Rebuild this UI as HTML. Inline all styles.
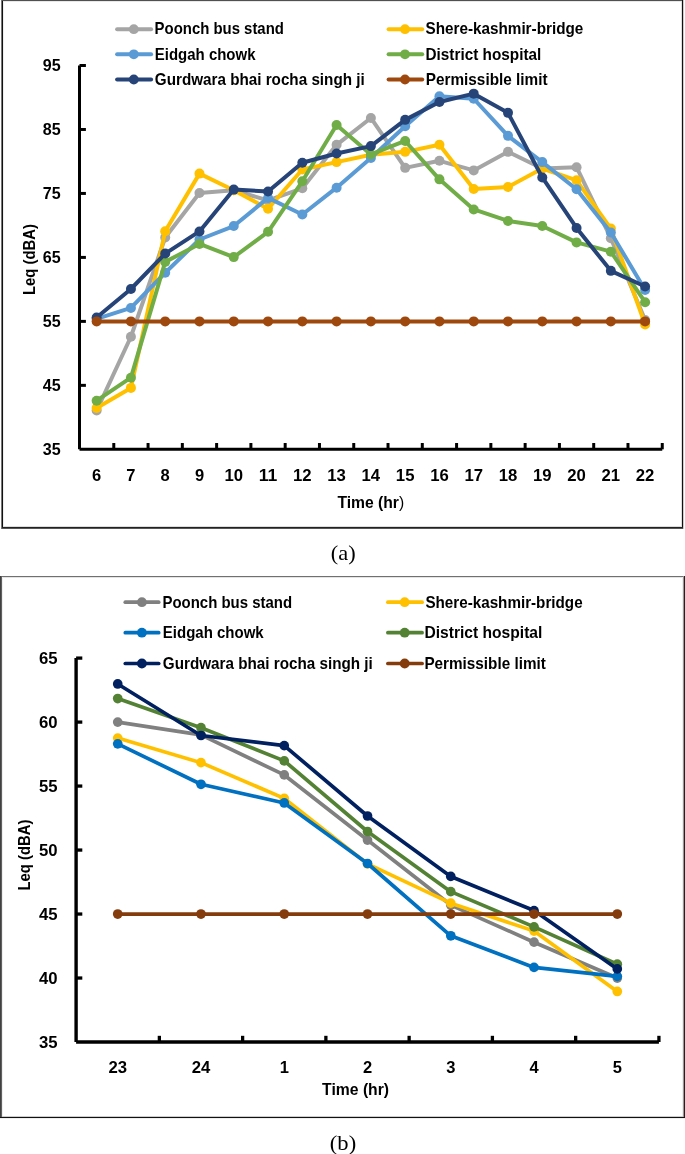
<!DOCTYPE html>
<html><head><meta charset="utf-8"><title>Leq charts</title>
<style>html,body{margin:0;padding:0;background:#fff;width:685px;height:1154px;overflow:hidden}svg{display:block;will-change:transform}</style>
</head><body>
<svg width="685" height="1154" viewBox="0 0 685 1154">
<rect x="0" y="0" width="685" height="1154" fill="#fff"/>
<rect x="1" y="0" width="1" height="529" fill="#777"/>
<rect x="2" y="0" width="1" height="529" fill="#111"/>
<rect x="3" y="1" width="1" height="526" fill="#eee"/>
<rect x="2" y="0" width="681" height="1" fill="#505050"/>
<rect x="3" y="1" width="679" height="1" fill="#e8e8e8"/>
<rect x="682" y="0" width="1" height="529" fill="#111"/>
<rect x="681" y="1" width="1" height="526" fill="#ddd"/>
<rect x="683" y="0" width="1" height="529" fill="#ccc"/>
<rect x="2" y="527" width="681" height="1" fill="#222"/>
<rect x="2" y="528" width="681" height="1" fill="#555"/>
<rect x="3" y="526" width="678" height="1" fill="#ddd"/>
<rect x="0" y="576" width="685" height="1" fill="#707070"/>
<rect x="2" y="577" width="681" height="1" fill="#e4e4e4"/>
<rect x="0" y="576" width="1" height="542" fill="#404040"/>
<rect x="1" y="576" width="1" height="542" fill="#606060"/>
<rect x="2" y="577" width="1" height="540" fill="#eee"/>
<rect x="683" y="576" width="1" height="542" fill="#999"/>
<rect x="684" y="576" width="1" height="542" fill="#222"/>
<rect x="682" y="577" width="1" height="540" fill="#eee"/>
<rect x="0" y="1117" width="685" height="1" fill="#111"/>
<rect x="2" y="1116" width="681" height="1" fill="#ccc"/>
<rect x="0" y="1118" width="685" height="1" fill="#eee"/>
<line x1="117.1" y1="29.2" x2="151.1" y2="29.2" stroke="#A5A5A5" stroke-width="4" stroke-linecap="round"/>
<circle cx="133.8" cy="29.2" r="4.9" fill="#A5A5A5"/>
<text x="154.6" y="34.4" font-size="16.2" font-weight="bold" text-anchor="start" fill="#000" font-family='"Liberation Sans", sans-serif' textLength="129.3" lengthAdjust="spacingAndGlyphs">Poonch bus stand</text>
<line x1="117.1" y1="54.3" x2="151.1" y2="54.3" stroke="#5B9BD5" stroke-width="4" stroke-linecap="round"/>
<circle cx="133.8" cy="54.3" r="4.9" fill="#5B9BD5"/>
<text x="154.8" y="59.5" font-size="16.2" font-weight="bold" text-anchor="start" fill="#000" font-family='"Liberation Sans", sans-serif' textLength="100.7" lengthAdjust="spacingAndGlyphs">Eidgah chowk</text>
<line x1="117.1" y1="79.5" x2="151.1" y2="79.5" stroke="#264478" stroke-width="4" stroke-linecap="round"/>
<circle cx="133.8" cy="79.5" r="4.9" fill="#264478"/>
<text x="154.8" y="84.7" font-size="16.2" font-weight="bold" text-anchor="start" fill="#000" font-family='"Liberation Sans", sans-serif' textLength="209.9" lengthAdjust="spacingAndGlyphs">Gurdwara bhai rocha singh ji</text>
<line x1="388.6" y1="29.2" x2="422.2" y2="29.2" stroke="#FFC000" stroke-width="4" stroke-linecap="round"/>
<circle cx="405" cy="29.2" r="4.9" fill="#FFC000"/>
<text x="425.5" y="34.4" font-size="16.2" font-weight="bold" text-anchor="start" fill="#000" font-family='"Liberation Sans", sans-serif' textLength="157.8" lengthAdjust="spacingAndGlyphs">Shere-kashmir-bridge</text>
<line x1="388.6" y1="54.3" x2="422.2" y2="54.3" stroke="#70AD47" stroke-width="4" stroke-linecap="round"/>
<circle cx="405" cy="54.3" r="4.9" fill="#70AD47"/>
<text x="425.5" y="59.5" font-size="16.2" font-weight="bold" text-anchor="start" fill="#000" font-family='"Liberation Sans", sans-serif' textLength="115.8" lengthAdjust="spacingAndGlyphs">District hospital</text>
<line x1="388.6" y1="79.5" x2="422.2" y2="79.5" stroke="#9E480E" stroke-width="4" stroke-linecap="round"/>
<circle cx="405" cy="79.5" r="4.9" fill="#9E480E"/>
<text x="425.8" y="84.7" font-size="16.2" font-weight="bold" text-anchor="start" fill="#000" font-family='"Liberation Sans", sans-serif' textLength="121.7" lengthAdjust="spacingAndGlyphs">Permissible limit</text>
<line x1="79.5" y1="65.5" x2="79.5" y2="449.32" stroke="#000" stroke-width="3" stroke-linecap="butt"/>
<line x1="79.5" y1="449.32" x2="662.26" y2="449.32" stroke="#000" stroke-width="3" stroke-linecap="butt"/>
<text x="60.6" y="454.82" font-size="17" font-weight="bold" text-anchor="end" fill="#000" font-family='"Liberation Sans", sans-serif' textLength="17.9" lengthAdjust="spacingAndGlyphs">35</text>
<line x1="79.5" y1="385.35" x2="85.9" y2="385.35" stroke="#000" stroke-width="3" stroke-linecap="butt"/>
<text x="60.6" y="390.85" font-size="17" font-weight="bold" text-anchor="end" fill="#000" font-family='"Liberation Sans", sans-serif' textLength="17.9" lengthAdjust="spacingAndGlyphs">45</text>
<line x1="79.5" y1="321.38" x2="85.9" y2="321.38" stroke="#000" stroke-width="3" stroke-linecap="butt"/>
<text x="60.6" y="326.88" font-size="17" font-weight="bold" text-anchor="end" fill="#000" font-family='"Liberation Sans", sans-serif' textLength="17.9" lengthAdjust="spacingAndGlyphs">55</text>
<line x1="79.5" y1="257.41" x2="85.9" y2="257.41" stroke="#000" stroke-width="3" stroke-linecap="butt"/>
<text x="60.6" y="262.91" font-size="17" font-weight="bold" text-anchor="end" fill="#000" font-family='"Liberation Sans", sans-serif' textLength="17.9" lengthAdjust="spacingAndGlyphs">65</text>
<line x1="79.5" y1="193.44" x2="85.9" y2="193.44" stroke="#000" stroke-width="3" stroke-linecap="butt"/>
<text x="60.6" y="198.94" font-size="17" font-weight="bold" text-anchor="end" fill="#000" font-family='"Liberation Sans", sans-serif' textLength="17.9" lengthAdjust="spacingAndGlyphs">75</text>
<line x1="79.5" y1="129.47" x2="85.9" y2="129.47" stroke="#000" stroke-width="3" stroke-linecap="butt"/>
<text x="60.6" y="134.97" font-size="17" font-weight="bold" text-anchor="end" fill="#000" font-family='"Liberation Sans", sans-serif' textLength="17.9" lengthAdjust="spacingAndGlyphs">85</text>
<line x1="79.5" y1="65.5" x2="85.9" y2="65.5" stroke="#000" stroke-width="3" stroke-linecap="butt"/>
<text x="60.6" y="71" font-size="17" font-weight="bold" text-anchor="end" fill="#000" font-family='"Liberation Sans", sans-serif' textLength="17.9" lengthAdjust="spacingAndGlyphs">95</text>
<line x1="113.78" y1="449.32" x2="113.78" y2="443.02" stroke="#000" stroke-width="3" stroke-linecap="butt"/>
<line x1="148.06" y1="449.32" x2="148.06" y2="443.02" stroke="#000" stroke-width="3" stroke-linecap="butt"/>
<line x1="182.34" y1="449.32" x2="182.34" y2="443.02" stroke="#000" stroke-width="3" stroke-linecap="butt"/>
<line x1="216.62" y1="449.32" x2="216.62" y2="443.02" stroke="#000" stroke-width="3" stroke-linecap="butt"/>
<line x1="250.9" y1="449.32" x2="250.9" y2="443.02" stroke="#000" stroke-width="3" stroke-linecap="butt"/>
<line x1="285.18" y1="449.32" x2="285.18" y2="443.02" stroke="#000" stroke-width="3" stroke-linecap="butt"/>
<line x1="319.46" y1="449.32" x2="319.46" y2="443.02" stroke="#000" stroke-width="3" stroke-linecap="butt"/>
<line x1="353.74" y1="449.32" x2="353.74" y2="443.02" stroke="#000" stroke-width="3" stroke-linecap="butt"/>
<line x1="388.02" y1="449.32" x2="388.02" y2="443.02" stroke="#000" stroke-width="3" stroke-linecap="butt"/>
<line x1="422.3" y1="449.32" x2="422.3" y2="443.02" stroke="#000" stroke-width="3" stroke-linecap="butt"/>
<line x1="456.58" y1="449.32" x2="456.58" y2="443.02" stroke="#000" stroke-width="3" stroke-linecap="butt"/>
<line x1="490.86" y1="449.32" x2="490.86" y2="443.02" stroke="#000" stroke-width="3" stroke-linecap="butt"/>
<line x1="525.14" y1="449.32" x2="525.14" y2="443.02" stroke="#000" stroke-width="3" stroke-linecap="butt"/>
<line x1="559.42" y1="449.32" x2="559.42" y2="443.02" stroke="#000" stroke-width="3" stroke-linecap="butt"/>
<line x1="593.7" y1="449.32" x2="593.7" y2="443.02" stroke="#000" stroke-width="3" stroke-linecap="butt"/>
<line x1="627.98" y1="449.32" x2="627.98" y2="443.02" stroke="#000" stroke-width="3" stroke-linecap="butt"/>
<line x1="662.26" y1="449.32" x2="662.26" y2="443.02" stroke="#000" stroke-width="3" stroke-linecap="butt"/>
<text x="96.64" y="480.5" font-size="17" font-weight="bold" text-anchor="middle" fill="#000" font-family='"Liberation Sans", sans-serif' textLength="9.2" lengthAdjust="spacingAndGlyphs">6</text>
<text x="130.92" y="480.5" font-size="17" font-weight="bold" text-anchor="middle" fill="#000" font-family='"Liberation Sans", sans-serif' textLength="9.2" lengthAdjust="spacingAndGlyphs">7</text>
<text x="165.2" y="480.5" font-size="17" font-weight="bold" text-anchor="middle" fill="#000" font-family='"Liberation Sans", sans-serif' textLength="9.2" lengthAdjust="spacingAndGlyphs">8</text>
<text x="199.48" y="480.5" font-size="17" font-weight="bold" text-anchor="middle" fill="#000" font-family='"Liberation Sans", sans-serif' textLength="9.2" lengthAdjust="spacingAndGlyphs">9</text>
<text x="233.76" y="480.5" font-size="17" font-weight="bold" text-anchor="middle" fill="#000" font-family='"Liberation Sans", sans-serif' textLength="18.6" lengthAdjust="spacingAndGlyphs">10</text>
<text x="268.04" y="480.5" font-size="17" font-weight="bold" text-anchor="middle" fill="#000" font-family='"Liberation Sans", sans-serif' textLength="18.6" lengthAdjust="spacingAndGlyphs">11</text>
<text x="302.32" y="480.5" font-size="17" font-weight="bold" text-anchor="middle" fill="#000" font-family='"Liberation Sans", sans-serif' textLength="18.6" lengthAdjust="spacingAndGlyphs">12</text>
<text x="336.6" y="480.5" font-size="17" font-weight="bold" text-anchor="middle" fill="#000" font-family='"Liberation Sans", sans-serif' textLength="18.6" lengthAdjust="spacingAndGlyphs">13</text>
<text x="370.88" y="480.5" font-size="17" font-weight="bold" text-anchor="middle" fill="#000" font-family='"Liberation Sans", sans-serif' textLength="18.6" lengthAdjust="spacingAndGlyphs">14</text>
<text x="405.16" y="480.5" font-size="17" font-weight="bold" text-anchor="middle" fill="#000" font-family='"Liberation Sans", sans-serif' textLength="18.6" lengthAdjust="spacingAndGlyphs">15</text>
<text x="439.44" y="480.5" font-size="17" font-weight="bold" text-anchor="middle" fill="#000" font-family='"Liberation Sans", sans-serif' textLength="18.6" lengthAdjust="spacingAndGlyphs">16</text>
<text x="473.72" y="480.5" font-size="17" font-weight="bold" text-anchor="middle" fill="#000" font-family='"Liberation Sans", sans-serif' textLength="18.6" lengthAdjust="spacingAndGlyphs">17</text>
<text x="508" y="480.5" font-size="17" font-weight="bold" text-anchor="middle" fill="#000" font-family='"Liberation Sans", sans-serif' textLength="18.6" lengthAdjust="spacingAndGlyphs">18</text>
<text x="542.28" y="480.5" font-size="17" font-weight="bold" text-anchor="middle" fill="#000" font-family='"Liberation Sans", sans-serif' textLength="18.6" lengthAdjust="spacingAndGlyphs">19</text>
<text x="576.56" y="480.5" font-size="17" font-weight="bold" text-anchor="middle" fill="#000" font-family='"Liberation Sans", sans-serif' textLength="18.6" lengthAdjust="spacingAndGlyphs">20</text>
<text x="610.84" y="480.5" font-size="17" font-weight="bold" text-anchor="middle" fill="#000" font-family='"Liberation Sans", sans-serif' textLength="18.6" lengthAdjust="spacingAndGlyphs">21</text>
<text x="645.12" y="480.5" font-size="17" font-weight="bold" text-anchor="middle" fill="#000" font-family='"Liberation Sans", sans-serif' textLength="18.6" lengthAdjust="spacingAndGlyphs">22</text>
<text x="337.4" y="507.8" font-size="16.5" font-weight="bold" text-anchor="start" fill="#000" font-family='"Liberation Sans", sans-serif' textLength="66.8" lengthAdjust="spacingAndGlyphs">Time (hr<tspan font-weight="normal">)</tspan></text>
<text transform="translate(35 259.5) rotate(-90)" x="0" y="0" font-size="16.5" font-weight="bold" text-anchor="middle" font-family='"Liberation Sans", sans-serif' textLength="71" lengthAdjust="spacingAndGlyphs">Leq (dBA)</text>
<path d="M96.64 410.55 L130.92 336.73 L165.2 237.58 L199.48 193.06 L233.76 190.24 L268.04 200.48 L302.32 188.32 L336.6 144.82 L370.88 117.96 L405.16 167.85 L439.44 160.82 L473.72 170.41 L508 151.86 L542.28 168.49 L576.56 167.21 L610.84 238.22 L645.12 320.1" fill="none" stroke="#A5A5A5" stroke-width="4" stroke-linejoin="round" stroke-linecap="round"/>
<circle cx="96.64" cy="410.55" r="5" fill="#A5A5A5"/>
<circle cx="130.92" cy="336.73" r="5" fill="#A5A5A5"/>
<circle cx="165.2" cy="237.58" r="5" fill="#A5A5A5"/>
<circle cx="199.48" cy="193.06" r="5" fill="#A5A5A5"/>
<circle cx="233.76" cy="190.24" r="5" fill="#A5A5A5"/>
<circle cx="268.04" cy="200.48" r="5" fill="#A5A5A5"/>
<circle cx="302.32" cy="188.32" r="5" fill="#A5A5A5"/>
<circle cx="336.6" cy="144.82" r="5" fill="#A5A5A5"/>
<circle cx="370.88" cy="117.96" r="5" fill="#A5A5A5"/>
<circle cx="405.16" cy="167.85" r="5" fill="#A5A5A5"/>
<circle cx="439.44" cy="160.82" r="5" fill="#A5A5A5"/>
<circle cx="473.72" cy="170.41" r="5" fill="#A5A5A5"/>
<circle cx="508" cy="151.86" r="5" fill="#A5A5A5"/>
<circle cx="542.28" cy="168.49" r="5" fill="#A5A5A5"/>
<circle cx="576.56" cy="167.21" r="5" fill="#A5A5A5"/>
<circle cx="610.84" cy="238.22" r="5" fill="#A5A5A5"/>
<circle cx="645.12" cy="320.1" r="5" fill="#A5A5A5"/>
<path d="M96.64 408.06 L130.92 387.91 L165.2 231.18 L199.48 173.61 L233.76 190.24 L268.04 208.79 L302.32 169.45 L336.6 162.09 L370.88 154.74 L405.16 151.86 L439.44 144.82 L473.72 188.96 L508 187.04 L542.28 168.49 L576.56 180.33 L610.84 228.62 L645.12 324.58" fill="none" stroke="#FFC000" stroke-width="4" stroke-linejoin="round" stroke-linecap="round"/>
<circle cx="96.64" cy="408.06" r="5" fill="#FFC000"/>
<circle cx="130.92" cy="387.91" r="5" fill="#FFC000"/>
<circle cx="165.2" cy="231.18" r="5" fill="#FFC000"/>
<circle cx="199.48" cy="173.61" r="5" fill="#FFC000"/>
<circle cx="233.76" cy="190.24" r="5" fill="#FFC000"/>
<circle cx="268.04" cy="208.79" r="5" fill="#FFC000"/>
<circle cx="302.32" cy="169.45" r="5" fill="#FFC000"/>
<circle cx="336.6" cy="162.09" r="5" fill="#FFC000"/>
<circle cx="370.88" cy="154.74" r="5" fill="#FFC000"/>
<circle cx="405.16" cy="151.86" r="5" fill="#FFC000"/>
<circle cx="439.44" cy="144.82" r="5" fill="#FFC000"/>
<circle cx="473.72" cy="188.96" r="5" fill="#FFC000"/>
<circle cx="508" cy="187.04" r="5" fill="#FFC000"/>
<circle cx="542.28" cy="168.49" r="5" fill="#FFC000"/>
<circle cx="576.56" cy="180.33" r="5" fill="#FFC000"/>
<circle cx="610.84" cy="228.62" r="5" fill="#FFC000"/>
<circle cx="645.12" cy="324.58" r="5" fill="#FFC000"/>
<path d="M96.64 318.82 L130.92 307.95 L165.2 272.76 L199.48 239.5 L233.76 226.06 L268.04 197.92 L302.32 214.55 L336.6 187.68 L370.88 157.94 L405.16 126.27 L439.44 96.21 L473.72 98.76 L508 135.87 L542.28 162.09 L576.56 189.28 L610.84 232.46 L645.12 290.03" fill="none" stroke="#5B9BD5" stroke-width="4" stroke-linejoin="round" stroke-linecap="round"/>
<circle cx="96.64" cy="318.82" r="5" fill="#5B9BD5"/>
<circle cx="130.92" cy="307.95" r="5" fill="#5B9BD5"/>
<circle cx="165.2" cy="272.76" r="5" fill="#5B9BD5"/>
<circle cx="199.48" cy="239.5" r="5" fill="#5B9BD5"/>
<circle cx="233.76" cy="226.06" r="5" fill="#5B9BD5"/>
<circle cx="268.04" cy="197.92" r="5" fill="#5B9BD5"/>
<circle cx="302.32" cy="214.55" r="5" fill="#5B9BD5"/>
<circle cx="336.6" cy="187.68" r="5" fill="#5B9BD5"/>
<circle cx="370.88" cy="157.94" r="5" fill="#5B9BD5"/>
<circle cx="405.16" cy="126.27" r="5" fill="#5B9BD5"/>
<circle cx="439.44" cy="96.21" r="5" fill="#5B9BD5"/>
<circle cx="473.72" cy="98.76" r="5" fill="#5B9BD5"/>
<circle cx="508" cy="135.87" r="5" fill="#5B9BD5"/>
<circle cx="542.28" cy="162.09" r="5" fill="#5B9BD5"/>
<circle cx="576.56" cy="189.28" r="5" fill="#5B9BD5"/>
<circle cx="610.84" cy="232.46" r="5" fill="#5B9BD5"/>
<circle cx="645.12" cy="290.03" r="5" fill="#5B9BD5"/>
<path d="M96.64 400.7 L130.92 377.67 L165.2 261.89 L199.48 243.98 L233.76 257.09 L268.04 231.82 L302.32 181.29 L336.6 124.99 L370.88 154.42 L405.16 140.98 L439.44 179.37 L473.72 209.43 L508 220.95 L542.28 226.06 L576.56 242.38 L610.84 251.65 L645.12 302.19" fill="none" stroke="#70AD47" stroke-width="4" stroke-linejoin="round" stroke-linecap="round"/>
<circle cx="96.64" cy="400.7" r="5" fill="#70AD47"/>
<circle cx="130.92" cy="377.67" r="5" fill="#70AD47"/>
<circle cx="165.2" cy="261.89" r="5" fill="#70AD47"/>
<circle cx="199.48" cy="243.98" r="5" fill="#70AD47"/>
<circle cx="233.76" cy="257.09" r="5" fill="#70AD47"/>
<circle cx="268.04" cy="231.82" r="5" fill="#70AD47"/>
<circle cx="302.32" cy="181.29" r="5" fill="#70AD47"/>
<circle cx="336.6" cy="124.99" r="5" fill="#70AD47"/>
<circle cx="370.88" cy="154.42" r="5" fill="#70AD47"/>
<circle cx="405.16" cy="140.98" r="5" fill="#70AD47"/>
<circle cx="439.44" cy="179.37" r="5" fill="#70AD47"/>
<circle cx="473.72" cy="209.43" r="5" fill="#70AD47"/>
<circle cx="508" cy="220.95" r="5" fill="#70AD47"/>
<circle cx="542.28" cy="226.06" r="5" fill="#70AD47"/>
<circle cx="576.56" cy="242.38" r="5" fill="#70AD47"/>
<circle cx="610.84" cy="251.65" r="5" fill="#70AD47"/>
<circle cx="645.12" cy="302.19" r="5" fill="#70AD47"/>
<path d="M96.64 317.54 L130.92 289.01 L165.2 253.57 L199.48 231.44 L233.76 189.6 L268.04 191.52 L302.32 162.73 L336.6 153.46 L370.88 146.1 L405.16 119.87 L439.44 101.96 L473.72 93.65 L508 112.84 L542.28 177.45 L576.56 227.98 L610.84 270.84 L645.12 286.52" fill="none" stroke="#264478" stroke-width="4" stroke-linejoin="round" stroke-linecap="round"/>
<circle cx="96.64" cy="317.54" r="5" fill="#264478"/>
<circle cx="130.92" cy="289.01" r="5" fill="#264478"/>
<circle cx="165.2" cy="253.57" r="5" fill="#264478"/>
<circle cx="199.48" cy="231.44" r="5" fill="#264478"/>
<circle cx="233.76" cy="189.6" r="5" fill="#264478"/>
<circle cx="268.04" cy="191.52" r="5" fill="#264478"/>
<circle cx="302.32" cy="162.73" r="5" fill="#264478"/>
<circle cx="336.6" cy="153.46" r="5" fill="#264478"/>
<circle cx="370.88" cy="146.1" r="5" fill="#264478"/>
<circle cx="405.16" cy="119.87" r="5" fill="#264478"/>
<circle cx="439.44" cy="101.96" r="5" fill="#264478"/>
<circle cx="473.72" cy="93.65" r="5" fill="#264478"/>
<circle cx="508" cy="112.84" r="5" fill="#264478"/>
<circle cx="542.28" cy="177.45" r="5" fill="#264478"/>
<circle cx="576.56" cy="227.98" r="5" fill="#264478"/>
<circle cx="610.84" cy="270.84" r="5" fill="#264478"/>
<circle cx="645.12" cy="286.52" r="5" fill="#264478"/>
<path d="M96.64 321.38 L130.92 321.38 L165.2 321.38 L199.48 321.38 L233.76 321.38 L268.04 321.38 L302.32 321.38 L336.6 321.38 L370.88 321.38 L405.16 321.38 L439.44 321.38 L473.72 321.38 L508 321.38 L542.28 321.38 L576.56 321.38 L610.84 321.38 L645.12 321.38" fill="none" stroke="#9E480E" stroke-width="4" stroke-linejoin="round" stroke-linecap="round"/>
<circle cx="96.64" cy="321.38" r="5" fill="#9E480E"/>
<circle cx="130.92" cy="321.38" r="5" fill="#9E480E"/>
<circle cx="165.2" cy="321.38" r="5" fill="#9E480E"/>
<circle cx="199.48" cy="321.38" r="5" fill="#9E480E"/>
<circle cx="233.76" cy="321.38" r="5" fill="#9E480E"/>
<circle cx="268.04" cy="321.38" r="5" fill="#9E480E"/>
<circle cx="302.32" cy="321.38" r="5" fill="#9E480E"/>
<circle cx="336.6" cy="321.38" r="5" fill="#9E480E"/>
<circle cx="370.88" cy="321.38" r="5" fill="#9E480E"/>
<circle cx="405.16" cy="321.38" r="5" fill="#9E480E"/>
<circle cx="439.44" cy="321.38" r="5" fill="#9E480E"/>
<circle cx="473.72" cy="321.38" r="5" fill="#9E480E"/>
<circle cx="508" cy="321.38" r="5" fill="#9E480E"/>
<circle cx="542.28" cy="321.38" r="5" fill="#9E480E"/>
<circle cx="576.56" cy="321.38" r="5" fill="#9E480E"/>
<circle cx="610.84" cy="321.38" r="5" fill="#9E480E"/>
<circle cx="645.12" cy="321.38" r="5" fill="#9E480E"/>
<text x="330.85" y="559.9" font-size="21.5" font-weight="normal" text-anchor="start" fill="#000" font-family='"Liberation Serif", serif' textLength="24.9" lengthAdjust="spacingAndGlyphs">(a)</text>
<line x1="125.3" y1="602.2" x2="158.7" y2="602.2" stroke="#808080" stroke-width="3.7" stroke-linecap="round"/>
<circle cx="141.9" cy="602.2" r="4.9" fill="#808080"/>
<text x="162.5" y="607.6" font-size="16.2" font-weight="bold" text-anchor="start" fill="#000" font-family='"Liberation Sans", sans-serif' textLength="129.6" lengthAdjust="spacingAndGlyphs">Poonch bus stand</text>
<line x1="125.3" y1="632.7" x2="158.7" y2="632.7" stroke="#0070C0" stroke-width="3.7" stroke-linecap="round"/>
<circle cx="141.9" cy="632.7" r="4.9" fill="#0070C0"/>
<text x="162.8" y="638.1" font-size="16.2" font-weight="bold" text-anchor="start" fill="#000" font-family='"Liberation Sans", sans-serif' textLength="100.9" lengthAdjust="spacingAndGlyphs">Eidgah chowk</text>
<line x1="125.3" y1="663.5" x2="158.7" y2="663.5" stroke="#002060" stroke-width="3.7" stroke-linecap="round"/>
<circle cx="141.9" cy="663.5" r="4.9" fill="#002060"/>
<text x="162.8" y="668.9" font-size="16.2" font-weight="bold" text-anchor="start" fill="#000" font-family='"Liberation Sans", sans-serif' textLength="210" lengthAdjust="spacingAndGlyphs">Gurdwara bhai rocha singh ji</text>
<line x1="387.9" y1="602.2" x2="422.1" y2="602.2" stroke="#FFC000" stroke-width="3.7" stroke-linecap="round"/>
<circle cx="404.7" cy="602.2" r="4.9" fill="#FFC000"/>
<text x="425.4" y="607.6" font-size="16.2" font-weight="bold" text-anchor="start" fill="#000" font-family='"Liberation Sans", sans-serif' textLength="157.2" lengthAdjust="spacingAndGlyphs">Shere-kashmir-bridge</text>
<line x1="387.9" y1="632.7" x2="422.1" y2="632.7" stroke="#548235" stroke-width="3.7" stroke-linecap="round"/>
<circle cx="404.7" cy="632.7" r="4.9" fill="#548235"/>
<text x="424.4" y="638.1" font-size="16.2" font-weight="bold" text-anchor="start" fill="#000" font-family='"Liberation Sans", sans-serif' textLength="118" lengthAdjust="spacingAndGlyphs">District hospital</text>
<line x1="387.9" y1="663.5" x2="422.1" y2="663.5" stroke="#843C0C" stroke-width="3.7" stroke-linecap="round"/>
<circle cx="404.7" cy="663.5" r="4.9" fill="#843C0C"/>
<text x="424.4" y="668.9" font-size="16.2" font-weight="bold" text-anchor="start" fill="#000" font-family='"Liberation Sans", sans-serif' textLength="121.4" lengthAdjust="spacingAndGlyphs">Permissible limit</text>
<line x1="76.1" y1="658.1" x2="76.1" y2="1042.01" stroke="#000" stroke-width="3.4" stroke-linecap="butt"/>
<line x1="76.1" y1="1042.01" x2="658.92" y2="1042.01" stroke="#000" stroke-width="3.4" stroke-linecap="butt"/>
<text x="57.5" y="1047.61" font-size="17" font-weight="bold" text-anchor="end" fill="#000" font-family='"Liberation Sans", sans-serif' textLength="18.6" lengthAdjust="spacingAndGlyphs">35</text>
<line x1="76.1" y1="978.03" x2="82.3" y2="978.03" stroke="#000" stroke-width="3.3" stroke-linecap="butt"/>
<text x="57.5" y="983.63" font-size="17" font-weight="bold" text-anchor="end" fill="#000" font-family='"Liberation Sans", sans-serif' textLength="18.6" lengthAdjust="spacingAndGlyphs">40</text>
<line x1="76.1" y1="914.04" x2="82.3" y2="914.04" stroke="#000" stroke-width="3.3" stroke-linecap="butt"/>
<text x="57.5" y="919.64" font-size="17" font-weight="bold" text-anchor="end" fill="#000" font-family='"Liberation Sans", sans-serif' textLength="18.6" lengthAdjust="spacingAndGlyphs">45</text>
<line x1="76.1" y1="850.06" x2="82.3" y2="850.06" stroke="#000" stroke-width="3.3" stroke-linecap="butt"/>
<text x="57.5" y="855.66" font-size="17" font-weight="bold" text-anchor="end" fill="#000" font-family='"Liberation Sans", sans-serif' textLength="18.6" lengthAdjust="spacingAndGlyphs">50</text>
<line x1="76.1" y1="786.07" x2="82.3" y2="786.07" stroke="#000" stroke-width="3.3" stroke-linecap="butt"/>
<text x="57.5" y="791.67" font-size="17" font-weight="bold" text-anchor="end" fill="#000" font-family='"Liberation Sans", sans-serif' textLength="18.6" lengthAdjust="spacingAndGlyphs">55</text>
<line x1="76.1" y1="722.09" x2="82.3" y2="722.09" stroke="#000" stroke-width="3.3" stroke-linecap="butt"/>
<text x="57.5" y="727.69" font-size="17" font-weight="bold" text-anchor="end" fill="#000" font-family='"Liberation Sans", sans-serif' textLength="18.6" lengthAdjust="spacingAndGlyphs">60</text>
<line x1="76.1" y1="658.1" x2="82.3" y2="658.1" stroke="#000" stroke-width="3.3" stroke-linecap="butt"/>
<text x="57.5" y="663.7" font-size="17" font-weight="bold" text-anchor="end" fill="#000" font-family='"Liberation Sans", sans-serif' textLength="18.6" lengthAdjust="spacingAndGlyphs">65</text>
<line x1="159.36" y1="1042.01" x2="159.36" y2="1035.81" stroke="#000" stroke-width="3.3" stroke-linecap="butt"/>
<line x1="242.62" y1="1042.01" x2="242.62" y2="1035.81" stroke="#000" stroke-width="3.3" stroke-linecap="butt"/>
<line x1="325.88" y1="1042.01" x2="325.88" y2="1035.81" stroke="#000" stroke-width="3.3" stroke-linecap="butt"/>
<line x1="409.14" y1="1042.01" x2="409.14" y2="1035.81" stroke="#000" stroke-width="3.3" stroke-linecap="butt"/>
<line x1="492.4" y1="1042.01" x2="492.4" y2="1035.81" stroke="#000" stroke-width="3.3" stroke-linecap="butt"/>
<line x1="575.66" y1="1042.01" x2="575.66" y2="1035.81" stroke="#000" stroke-width="3.3" stroke-linecap="butt"/>
<line x1="658.92" y1="1042.01" x2="658.92" y2="1035.81" stroke="#000" stroke-width="3.3" stroke-linecap="butt"/>
<text x="117.73" y="1073.4" font-size="17" font-weight="bold" text-anchor="middle" fill="#000" font-family='"Liberation Sans", sans-serif' textLength="18.6" lengthAdjust="spacingAndGlyphs">23</text>
<text x="200.99" y="1073.4" font-size="17" font-weight="bold" text-anchor="middle" fill="#000" font-family='"Liberation Sans", sans-serif' textLength="18.6" lengthAdjust="spacingAndGlyphs">24</text>
<text x="284.25" y="1073.4" font-size="17" font-weight="bold" text-anchor="middle" fill="#000" font-family='"Liberation Sans", sans-serif' textLength="9.2" lengthAdjust="spacingAndGlyphs">1</text>
<text x="367.51" y="1073.4" font-size="17" font-weight="bold" text-anchor="middle" fill="#000" font-family='"Liberation Sans", sans-serif' textLength="9.2" lengthAdjust="spacingAndGlyphs">2</text>
<text x="450.77" y="1073.4" font-size="17" font-weight="bold" text-anchor="middle" fill="#000" font-family='"Liberation Sans", sans-serif' textLength="9.2" lengthAdjust="spacingAndGlyphs">3</text>
<text x="534.03" y="1073.4" font-size="17" font-weight="bold" text-anchor="middle" fill="#000" font-family='"Liberation Sans", sans-serif' textLength="9.2" lengthAdjust="spacingAndGlyphs">4</text>
<text x="617.29" y="1073.4" font-size="17" font-weight="bold" text-anchor="middle" fill="#000" font-family='"Liberation Sans", sans-serif' textLength="9.2" lengthAdjust="spacingAndGlyphs">5</text>
<text x="322.1" y="1095.1" font-size="16.3" font-weight="bold" text-anchor="start" fill="#000" font-family='"Liberation Sans", sans-serif' textLength="67" lengthAdjust="spacingAndGlyphs">Time (hr)</text>
<text transform="translate(30.4 855) rotate(-90)" x="0" y="0" font-size="16.5" font-weight="bold" text-anchor="middle" font-family='"Liberation Sans", sans-serif' textLength="71" lengthAdjust="spacingAndGlyphs">Leq (dBA)</text>
<path d="M117.73 722.09 L200.99 734.88 L284.25 774.94 L367.51 840.07 L450.77 905.08 L534.03 942.19 L617.29 978.03" fill="none" stroke="#808080" stroke-width="3.7" stroke-linejoin="round" stroke-linecap="round"/>
<circle cx="117.73" cy="722.09" r="4.85" fill="#808080"/>
<circle cx="200.99" cy="734.88" r="4.85" fill="#808080"/>
<circle cx="284.25" cy="774.94" r="4.85" fill="#808080"/>
<circle cx="367.51" cy="840.07" r="4.85" fill="#808080"/>
<circle cx="450.77" cy="905.08" r="4.85" fill="#808080"/>
<circle cx="534.03" cy="942.19" r="4.85" fill="#808080"/>
<circle cx="617.29" cy="978.03" r="4.85" fill="#808080"/>
<path d="M117.73 738.08 L200.99 762.65 L284.25 798.36 L367.51 863.88 L450.77 903.16 L534.03 931.06 L617.29 991.46" fill="none" stroke="#FFC000" stroke-width="3.7" stroke-linejoin="round" stroke-linecap="round"/>
<circle cx="117.73" cy="738.08" r="4.85" fill="#FFC000"/>
<circle cx="200.99" cy="762.65" r="4.85" fill="#FFC000"/>
<circle cx="284.25" cy="798.36" r="4.85" fill="#FFC000"/>
<circle cx="367.51" cy="863.88" r="4.85" fill="#FFC000"/>
<circle cx="450.77" cy="903.16" r="4.85" fill="#FFC000"/>
<circle cx="534.03" cy="931.06" r="4.85" fill="#FFC000"/>
<circle cx="617.29" cy="991.46" r="4.85" fill="#FFC000"/>
<path d="M117.73 743.84 L200.99 784.28 L284.25 802.96 L367.51 863.49 L450.77 935.79 L534.03 967.4 L617.29 976.36" fill="none" stroke="#0070C0" stroke-width="3.7" stroke-linejoin="round" stroke-linecap="round"/>
<circle cx="117.73" cy="743.84" r="4.85" fill="#0070C0"/>
<circle cx="200.99" cy="784.28" r="4.85" fill="#0070C0"/>
<circle cx="284.25" cy="802.96" r="4.85" fill="#0070C0"/>
<circle cx="367.51" cy="863.49" r="4.85" fill="#0070C0"/>
<circle cx="450.77" cy="935.79" r="4.85" fill="#0070C0"/>
<circle cx="534.03" cy="967.4" r="4.85" fill="#0070C0"/>
<circle cx="617.29" cy="976.36" r="4.85" fill="#0070C0"/>
<path d="M117.73 698.54 L200.99 727.72 L284.25 760.86 L367.51 831.5 L450.77 891.65 L534.03 926.84 L617.29 964.2" fill="none" stroke="#548235" stroke-width="3.7" stroke-linejoin="round" stroke-linecap="round"/>
<circle cx="117.73" cy="698.54" r="4.85" fill="#548235"/>
<circle cx="200.99" cy="727.72" r="4.85" fill="#548235"/>
<circle cx="284.25" cy="760.86" r="4.85" fill="#548235"/>
<circle cx="367.51" cy="831.5" r="4.85" fill="#548235"/>
<circle cx="450.77" cy="891.65" r="4.85" fill="#548235"/>
<circle cx="534.03" cy="926.84" r="4.85" fill="#548235"/>
<circle cx="617.29" cy="964.2" r="4.85" fill="#548235"/>
<path d="M117.73 683.95 L200.99 735.52 L284.25 745.63 L367.51 816.01 L450.77 876.42 L534.03 910.58 L617.29 968.94" fill="none" stroke="#002060" stroke-width="3.7" stroke-linejoin="round" stroke-linecap="round"/>
<circle cx="117.73" cy="683.95" r="4.85" fill="#002060"/>
<circle cx="200.99" cy="735.52" r="4.85" fill="#002060"/>
<circle cx="284.25" cy="745.63" r="4.85" fill="#002060"/>
<circle cx="367.51" cy="816.01" r="4.85" fill="#002060"/>
<circle cx="450.77" cy="876.42" r="4.85" fill="#002060"/>
<circle cx="534.03" cy="910.58" r="4.85" fill="#002060"/>
<circle cx="617.29" cy="968.94" r="4.85" fill="#002060"/>
<path d="M117.73 914.04 L200.99 914.04 L284.25 914.04 L367.51 914.04 L450.77 914.04 L534.03 914.04 L617.29 914.04" fill="none" stroke="#843C0C" stroke-width="3.7" stroke-linejoin="round" stroke-linecap="round"/>
<circle cx="117.73" cy="914.04" r="4.85" fill="#843C0C"/>
<circle cx="200.99" cy="914.04" r="4.85" fill="#843C0C"/>
<circle cx="284.25" cy="914.04" r="4.85" fill="#843C0C"/>
<circle cx="367.51" cy="914.04" r="4.85" fill="#843C0C"/>
<circle cx="450.77" cy="914.04" r="4.85" fill="#843C0C"/>
<circle cx="534.03" cy="914.04" r="4.85" fill="#843C0C"/>
<circle cx="617.29" cy="914.04" r="4.85" fill="#843C0C"/>
<text x="329.85" y="1149.7" font-size="21.5" font-weight="normal" text-anchor="start" fill="#000" font-family='"Liberation Serif", serif' textLength="26.3" lengthAdjust="spacingAndGlyphs">(b)</text>
</svg>
</body></html>
